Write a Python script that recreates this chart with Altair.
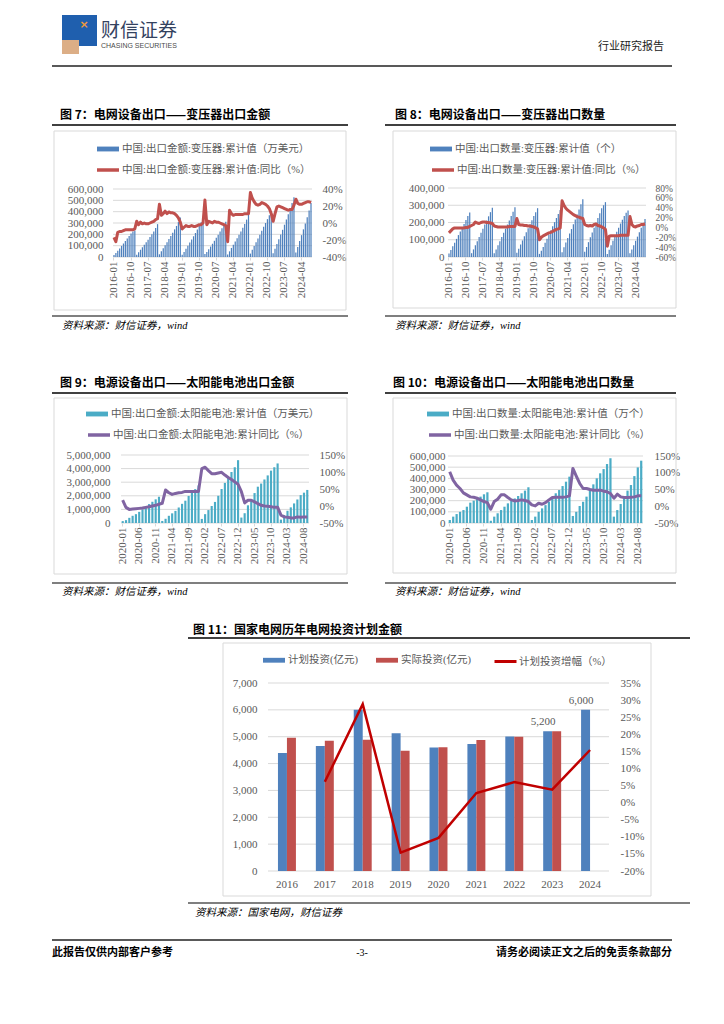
import altair as alt
import pandas as pd

# ------------------------------------------------------------------ data
MONTHS_16 = [f"{y}-{m:02d}" for y in range(2016, 2025) for m in range(1, 13)][:105]
MONTHS_20 = [f"{y}-{m:02d}" for y in range(2020, 2025) for m in range(1, 13)][:57]
XLAB_16 = ["2016-01", "2016-10", "2017-07", "2018-04", "2019-01", "2019-10",
           "2020-07", "2021-04", "2022-01", "2022-10", "2023-07", "2024-04"]
XLAB_20 = ["2020-01", "2020-06", "2020-11", "2021-04", "2021-09", "2022-02",
           "2022-07", "2022-12", "2023-05", "2023-10", "2024-03", "2024-08"]

# Fig 7  transformer export value (10k USD, cumulative) and YoY (%)
TR_VAL = [
    18000, 36000, 56000, 76000, 98000, 119000, 141000, 164000, 186000, 207000, 224000, 233000,
    20000, 42000, 64000, 86000, 108000, 130000, 153000, 176000, 200000, 226000, 256000, 290000,
    24000, 50000, 78000, 104000, 130000, 158000, 186000, 214000, 244000, 274000, 308000, 348000,
    20000, 45000, 73000, 100000, 127000, 155000, 183000, 212000, 243000, 274000, 306000, 343000,
    26000, 44000, 68000, 92000, 117000, 143000, 170000, 197000, 225000, 254000, 283000, 312000,
    22000, 50000, 80000, 108000, 136000, 166000, 196000, 226000, 258000, 292000, 330000, 374000,
    30000, 64000, 98000, 130000, 163000, 197000, 232000, 266000, 300000, 334000, 368000, 405000,
    32000, 72000, 115000, 156000, 198000, 240000, 285000, 330000, 378000, 426000, 476000, 528000,
    40000, 88000, 142000, 193000, 244000, 295000, 350000, 410000, 476000]
TR_VAL_YOY = [
    -17, -22, -11, -10, -10, -9, -8, -8, -8, -8, -8, -7,
    2, -2, 1, -1, 0, -1, -1, 0, 1, 2, 4, 5,
    22, 9, 11, 14, 11, 13, 12, 12, 11, 9, 6, 1,
    -7, -5, -3, -4, -4, -3, -4, -4, -3, -2, -2, 0,
    27, -2, 2, 1, 0, 2, 1, 1, 0, -1, -2, -3,
    -22, 15, 11, 9, 10, 10, 10, 10, 10, 11, 11, 11,
    36, 29, 25, 22, 21, 22, 24, 23, 22, 20, 17, 11,
    2, 11, 19, 20, 19, 18, 17, 16, 15, 16, 16, 21,
    28, 23, 22, 22, 23, 24, 25, 25, 24]

# Fig 8  transformer export quantity (units, cumulative) and YoY (%)
TR_QTY = [
    20000, 40000, 62000, 83000, 105000, 127000, 148000, 170000, 192000, 215000, 237000, 258000,
    22000, 44000, 68000, 92000, 116000, 140000, 164000, 188000, 212000, 236000, 260000, 286000,
    22000, 44000, 68000, 92000, 116000, 140000, 164000, 188000, 212000, 238000, 262000, 288000,
    25000, 48000, 72000, 96000, 120000, 143000, 167000, 190000, 213000, 237000, 260000, 283000,
    18000, 36000, 58000, 82000, 106000, 130000, 154000, 178000, 202000, 226000, 250000, 272000,
    28000, 56000, 84000, 110000, 136000, 162000, 190000, 218000, 246000, 276000, 306000, 335000,
    30000, 58000, 86000, 114000, 142000, 170000, 198000, 226000, 254000, 282000, 300000, 318000,
    18000, 42000, 68000, 94000, 120000, 146000, 170000, 194000, 216000, 238000, 256000, 270000,
    22000, 44000, 68000, 94000, 118000, 144000, 170000, 196000, 220000]
TR_QTY_YOY = [
    -11, -7, -3, -1, -1, -1, -1, -1, -1, 0, 0, 2,
    4, 6, 11, 9, 8, 10, 11, 11, 10, 10, 9, 8,
    3, 2, 1, 1, 1, 1, 1, 1, 2, 2, 2, 2,
    18, 6, 5, 5, 4, 4, 3, 3, 2, 1, -1, -3,
    -25, -20, -17, -15, -13, -11, -10, -8, -6, -4, -3, -1,
    54, 45, 39, 35, 32, 29, 26, 24, 22, 21, 19, 18,
    6, 4, 3, 4, 3, 6, 7, 4, 3, 1, -1, -4,
    -38, -18, -17, -17, -17, -17, -17, -16, -16, -16, -16, -16,
    22, 6, 2, 1, 3, 4, 6, 6, 7]

# Fig 9  solar cell export value (10k USD, cumulative) and YoY (%)
PV_VAL = [
    140000, 210000, 380000, 530000, 650000, 820000, 1000000, 1150000, 1390000, 1560000, 1740000, 1930000,
    150000, 310000, 530000, 710000, 890000, 1140000, 1410000, 1640000, 1990000, 2230000, 2490000, 2760000,
    300000, 650000, 950000, 1250000, 1550000, 2000000, 2500000, 2950000, 3350000, 3750000, 4100000, 4620000,
    400000, 720000, 1300000, 1700000, 2200000, 2670000, 2900000, 3200000, 3500000, 3850000, 4100000, 4380000,
    250000, 580000, 900000, 1150000, 1440000, 1730000, 2050000, 2230000, 2430000]
PV_VAL_YOY = [
    17, -4, -10, -9, -8, -7, -6, -4, -2, 0, 2, 5,
    8, 47, 39, 34, 37, 39, 40, 43, 43, 43, 43, 43,
    110, 114, 104, 95, 95, 97, 99, 91, 84, 78, 71, 64,
    42, 9, 17, 17, 12, 7, 2, 0, -1, -2, -4, -4,
    -27, -32, -33, -35, -35, -32, -33, -32, -32]

# Fig 10  solar cell export quantity (10k units, cumulative) and YoY (%)
PV_QTY = [
    27000, 57000, 80000, 100000, 116000, 146000, 182000, 200000, 220000, 236000, 257000, 275000,
    20000, 57000, 87000, 116000, 146000, 176000, 197000, 220000, 242000, 266000, 290000, 320000,
    27000, 57000, 100000, 131000, 160000, 190000, 226000, 266000, 295000, 331000, 370000, 415000,
    63000, 100000, 152000, 190000, 236000, 295000, 346000, 400000, 445000, 483000, 528000, 580000,
    57000, 116000, 170000, 220000, 290000, 340000, 420000, 498000, 558000]
PV_QTY_YOY = [
    103, 78, 63, 53, 40, 34, 28, 27, 24, 19, 14, 11,
    -9, 14, 21, 34, 34, 26, 19, 16, 17, 19, 17, 14,
    4, 1, 9, 6, 11, 19, 26, 27, 27, 27, 28, 31,
    113, 90, 68, 53, 53, 50, 48, 48, 48, 45, 43, 38,
    24, 36, 28, 26, 26, 27, 28, 31, 31]

# Fig 11  State Grid investment (100m CNY)
YEARS = ["2016", "2017", "2018", "2019", "2020", "2021", "2022", "2023", "2024"]
PLAN = [4390, 4657, 6000, 5126, 4600, 4730, 5012, 5200, 6000]
ACTUAL = [4960, 4854, 4889, 4473, 4605, 4882, 5000, 5200]
PLAN_GROWTH = [6.1, 28.8, -14.6, -10.3, 2.8, 6.0, 3.8, 15.4]   # 2017..2024
PLAN_LABELS = {"2023": "5,200", "2024": "6,000"}

# ------------------------------------------------------------------ layout helpers
MARGIN = 8
W, H = 708, 1008
SERIF = "Liberation Serif, Noto Sans CJK SC"
CJK = "Noto Sans CJK SC"
GRAY = "#595959"
GRID = "#d9d9d9"
ONE = pd.DataFrame({"k": [0]})


def px(v):
    return v - MARGIN


def txt(s, x, y, size, color="#000000", font=CJK, weight="normal", style="normal",
        align="left", baseline="middle"):
    return alt.Chart(ONE).mark_text(
        text=s, font=font, fontSize=size, fontWeight=weight, fontStyle=style,
        color=color, align=align, baseline=baseline
    ).encode(x=alt.value(px(x)), y=alt.value(px(y)))


def hline(x1, x2, y, color="#000000", width=1.0):
    return alt.Chart(ONE).mark_rule(color=color, strokeWidth=width).encode(
        x=alt.value(px(x1)), x2=alt.value(px(x2)), y=alt.value(px(y)))


def frame(x1, y1, x2, y2, color=GRID):
    return alt.Chart(ONE).mark_rect(fillOpacity=0, stroke=color, strokeWidth=1).encode(
        x=alt.value(px(x1)), x2=alt.value(px(x2)), y=alt.value(px(y1)), y2=alt.value(px(y2)))


def filled(x1, y1, x2, y2, color):
    return alt.Chart(ONE).mark_rect(color=color).encode(
        x=alt.value(px(x1)), x2=alt.value(px(x2)), y=alt.value(px(y1)), y2=alt.value(px(y2)))


BAR_SYMBOL = "M-1,-0.22H1V0.22H-1Z"


def bar_legend(x, yc, direction="vertical", colpad=10):
    return alt.Legend(orient="none", legendX=px(x), legendY=px(yc) - 11, title=None,
                      symbolType=BAR_SYMBOL, symbolSize=484, symbolStrokeWidth=0,
                      labelFont=SERIF, labelFontSize=10.5, labelColor=GRAY, labelLimit=500,
                      labelOffset=3, padding=0, direction=direction,
                      columnPadding=colpad, symbolOpacity=1)


def line_legend(x, yc, width=3.5):
    return alt.Legend(orient="none", legendX=px(x), legendY=px(yc) - 11, title=None,
                      symbolType="stroke", symbolSize=484, symbolStrokeWidth=width,
                      labelFont=SERIF, labelFontSize=10.5, labelColor=GRAY, labelLimit=500,
                      labelOffset=1, padding=0)


def left_axis(x0, label_right, values):
    return alt.Axis(orient="left", offset=-px(x0), values=values, format=",d",
                    labelPadding=x0 - label_right, ticks=False, tickSize=0, domain=False,
                    grid=False, labelFont=SERIF, labelFontSize=11, labelColor=GRAY,
                    labelOverlap=False, labelFlush=False, title=None)


def right_axis(x1, label_left, values, size=11):
    return alt.Axis(orient="right", offset=px(x1) - W, values=values,
                    labelExpr="datum.value + '%'", labelPadding=label_left - x1,
                    ticks=False, tickSize=0, domain=False, grid=False,
                    labelOverlap=False, labelFlush=False,
                    labelFont=SERIF, labelFontSize=size, labelColor=GRAY, title=None)


def dual_chart(c):
    xs = alt.Scale(domain=c["months"], range=[px(c["x0"]), px(c["x1"])],
                   paddingInner=0.35, paddingOuter=0.2)
    yl = alt.Scale(domain=c["ldom"], range=[px(c["yb"]), px(c["yt"])], nice=False, zero=False)
    yr = alt.Scale(domain=c["rdom"], range=[px(c["yb"]), px(c["yt"])], nice=False, zero=False)
    grid = alt.Chart(pd.DataFrame({"v": c["lticks"]})).mark_rule(
        color=GRID, strokeWidth=1).encode(
        y=alt.Y("v:Q", scale=yl, axis=None),
        x=alt.value(px(c["x0"])), x2=alt.value(px(c["x1"])))
    xaxis = alt.Axis(orient="bottom", offset=px(c["yb"]) - H, values=c["xlabels"],
                     labelAngle=-90, tickSize=3, tickColor=GRID, domain=False,
                     labelPadding=1, labelFont=SERIF, labelFontSize=11,
                     labelOverlap=False, labelColor=GRAY, grid=False, title=None)
    bar_df = pd.DataFrame({"m": c["months"], "v": c["bars"], "s": c["bar_name"]})
    bars = alt.Chart(bar_df).mark_bar(color=c["bar_color"]).encode(
        x=alt.X("m:N", scale=xs, axis=xaxis),
        y=alt.Y("v:Q", scale=yl, axis=left_axis(c["x0"], c["lab_l"], c["lticks"])),
        color=alt.Color("s:N", scale=alt.Scale(domain=[c["bar_name"]], range=[c["bar_color"]]),
                        legend=bar_legend(c["leg_x"], c["leg_y1"])))
    line_df = pd.DataFrame({"m": c["months"], "v": c["line"], "s": c["line_name"]})
    line = alt.Chart(line_df).mark_line(strokeWidth=3, strokeJoin="round").encode(
        x=alt.X("m:N", scale=xs, axis=None),
        y=alt.Y("v:Q", scale=yr,
                axis=right_axis(c["x1"], c["lab_r"], c["rticks"], c.get("rsize", 11))),
        stroke=alt.Stroke("s:N", scale=alt.Scale(domain=[c["line_name"]], range=[c["line_color"]]),
                          legend=line_legend(c["leg_x2"], c["leg_y2"])))
    return [grid, bars, line]


BLUE, RED, TEAL, PURPLE, DRED = "#4F81BD", "#C0504D", "#4BACC6", "#8064A2", "#C00000"

fig7 = dict(months=MONTHS_16, xlabels=XLAB_16, bars=TR_VAL, line=TR_VAL_YOY,
            x0=113, x1=312, yb=257, yt=189, ldom=[0, 600000],
            lticks=[0, 100000, 200000, 300000, 400000, 500000, 600000],
            rdom=[-40, 40], rticks=[-40, -20, 0, 20, 40], lab_l=103, lab_r=322,
            bar_name="中国:出口金额:变压器:累计值（万美元）",
            line_name="中国:出口金额:变压器:累计值:同比（%）",
            bar_color=BLUE, line_color=RED, leg_x=97, leg_y1=149, leg_x2=95, leg_y2=168)
fig8 = dict(months=MONTHS_16, xlabels=XLAB_16, bars=TR_QTY, line=TR_QTY_YOY,
            x0=448, x1=646, yb=257, yt=188, ldom=[0, 400000],
            lticks=[0, 100000, 200000, 300000, 400000],
            rdom=[-60, 80], rticks=[-60, -40, -20, 0, 20, 40, 60, 80], lab_l=444, lab_r=655,
            rsize=9.5,
            bar_name="中国:出口数量:变压器:累计值（个）",
            line_name="中国:出口数量:变压器:累计值:同比（%）",
            bar_color=BLUE, line_color=RED, leg_x=430, leg_y1=149, leg_x2=430, leg_y2=168)
fig9 = dict(months=MONTHS_20, xlabels=XLAB_20, bars=PV_VAL, line=PV_VAL_YOY,
            x0=121, x1=309, yb=523, yt=455, ldom=[0, 5000000],
            lticks=[0, 1000000, 2000000, 3000000, 4000000, 5000000],
            rdom=[-50, 150], rticks=[-50, 0, 50, 100, 150], lab_l=110, lab_r=319,
            bar_name="中国:出口金额:太阳能电池:累计值（万美元）",
            line_name="中国:出口金额:太阳能电池:累计同比（%）",
            bar_color=TEAL, line_color=PURPLE, leg_x=86, leg_y1=414, leg_x2=86, leg_y2=433)
fig10 = dict(months=MONTHS_20, xlabels=XLAB_20, bars=PV_QTY, line=PV_QTY_YOY,
             x0=448, x1=643, yb=523, yt=456, ldom=[0, 600000],
             lticks=[0, 100000, 200000, 300000, 400000, 500000, 600000],
             rdom=[-50, 150], rticks=[-50, 0, 50, 100, 150], lab_l=445, lab_r=654,
             bar_name="中国:出口数量:太阳能电池:累计值（万个）",
             line_name="中国:出口数量:太阳能电池:累计同比（%）",
             bar_color=TEAL, line_color=PURPLE, leg_x=427, leg_y1=414, leg_x2=427, leg_y2=433)


def grid_chart():
    x0, x1, yb, yt = 268, 609, 871, 683
    plan_name, act_name, g_name = "计划投资(亿元)", "实际投资(亿元)", "计划投资增幅（%）"
    xs = alt.Scale(domain=YEARS, range=[px(x0), px(x1)], paddingInner=0.526, paddingOuter=0.263)
    xo = alt.Scale(domain=[plan_name, act_name], paddingInner=0, paddingOuter=0)
    lt = [0, 1000, 2000, 3000, 4000, 5000, 6000, 7000]
    rt = [-20, -15, -10, -5, 0, 5, 10, 15, 20, 25, 30, 35]
    yl = alt.Scale(domain=[0, 7000], range=[px(yb), px(yt)], nice=False, zero=False)
    yr = alt.Scale(domain=[-20, 35], range=[px(yb), px(yt)], nice=False, zero=False)
    grid = alt.Chart(pd.DataFrame({"v": lt})).mark_rule(color=GRID, strokeWidth=1).encode(
        y=alt.Y("v:Q", scale=yl, axis=None), x=alt.value(px(x0)), x2=alt.value(px(x1)))
    rows = [{"y": y, "s": plan_name, "v": v} for y, v in zip(YEARS, PLAN)] + \
           [{"y": y, "s": act_name, "v": v} for y, v in zip(YEARS, ACTUAL)]
    xaxis = alt.Axis(orient="bottom", offset=px(yb) - H, labelAngle=0, ticks=False,
                     tickSize=0, domain=False, labelPadding=7, labelFont=SERIF,
                     labelFontSize=11, labelColor=GRAY, grid=False, title=None)
    bars = alt.Chart(pd.DataFrame(rows)).mark_bar().encode(
        x=alt.X("y:N", scale=xs, axis=xaxis),
        xOffset=alt.XOffset("s:N", scale=xo),
        y=alt.Y("v:Q", scale=yl, axis=left_axis(x0, 257, lt)),
        color=alt.Color("s:N", scale=alt.Scale(domain=[plan_name, act_name], range=[BLUE, RED]),
                        legend=bar_legend(263, 660, direction="horizontal", colpad=18)))
    lab_df = pd.DataFrame({"y": list(PLAN_LABELS.keys()), "s": plan_name,
                           "v": [PLAN[YEARS.index(k)] for k in PLAN_LABELS],
                           "t": list(PLAN_LABELS.values())})
    labels = alt.Chart(lab_df).mark_text(baseline="bottom", dy=-4, font=SERIF,
                                         fontSize=11, color=GRAY).encode(
        x=alt.X("y:N", scale=xs, axis=None), xOffset=alt.XOffset("s:N", scale=xo),
        y=alt.Y("v:Q", scale=yl, axis=None), text="t:N")
    g_df = pd.DataFrame({"y": YEARS[1:], "v": PLAN_GROWTH, "s": g_name})
    line = alt.Chart(g_df).mark_line(strokeWidth=2.5).encode(
        x=alt.X("y:N", scale=xs, axis=None),
        y=alt.Y("v:Q", scale=yr, axis=right_axis(x1, 620, rt)),
        stroke=alt.Stroke("s:N", scale=alt.Scale(domain=[g_name], range=[DRED]),
                          legend=line_legend(493, 660, width=3)))
    return [grid, bars, line, labels]


# ------------------------------------------------------------------ page decorations
deco = [
    # header
    filled(62, 15, 97, 46, "#1f5fae"),
    filled(62, 40, 79, 54, "#dcae86"),
    txt("×", 84, 25, 11, color="#f29a3a", font="DejaVu Sans", weight="bold", align="center"),
    txt("财信证券", 101, 31, 19, color="#34425f"),
    txt("CHASING SECURITIES", 101, 46, 7, color="#4a4a4a", font="Liberation Sans"),
    txt("行业研究报告", 598, 47, 11, color="#222222"),
    hline(52, 672, 66, color="#222222", width=1.5),
    # figure 7 / 8
    txt("图 7：电网设备出口——变压器出口金额", 60, 115, 12, weight="bold"),
    hline(52, 348, 125, width=1.5),
    frame(54, 131, 346, 310),
    hline(52, 348, 316, width=1.2),
    txt("资料来源：财信证券，wind", 62, 326, 10.5, style="italic", font=SERIF),
    txt("图 8：电网设备出口——变压器出口数量", 395, 115, 12, weight="bold"),
    hline(385, 676, 125, width=1.5),
    frame(393, 131, 676, 308),
    hline(385, 676, 316, width=1.2),
    txt("资料来源：财信证券，wind", 395, 326, 10.5, style="italic", font=SERIF),
    # figure 9 / 10
    txt("图 9：电源设备出口——太阳能电池出口金额", 60, 383, 12, weight="bold"),
    hline(52, 348, 393, width=1.5),
    frame(54, 398, 347, 574),
    hline(52, 348, 583, width=1.2),
    txt("资料来源：财信证券，wind", 62, 592, 10.5, style="italic", font=SERIF),
    txt("图 10：电源设备出口——太阳能电池出口数量", 393, 383, 12, weight="bold"),
    hline(385, 676, 393, width=1.5),
    frame(393, 398, 676, 573),
    hline(385, 676, 583, width=1.2),
    txt("资料来源：财信证券，wind", 395, 592, 10.5, style="italic", font=SERIF),
    # figure 11
    txt("图 11：国家电网历年电网投资计划金额", 193, 630, 12, weight="bold"),
    hline(188, 690, 638, width=1.5),
    frame(223, 643, 651, 896),
    hline(188, 690, 903, width=1.2),
    txt("资料来源：国家电网，财信证券", 195, 913, 10.5, style="italic", font=SERIF),
    # footer
    hline(52, 672, 940, color="#222222", width=1.5),
    txt("此报告仅供内部客户参考", 52, 953, 11, weight="bold"),
    txt("-3-", 362, 953, 10, font=SERIF, align="center"),
    txt("请务必阅读正文之后的免责条款部分", 672, 953, 11, weight="bold", align="right"),
]

layers = deco + dual_chart(fig7) + dual_chart(fig8) + dual_chart(fig9) + dual_chart(fig10) + grid_chart()

chart = alt.layer(*layers).properties(
    width=W, height=H, padding=0, background="white",
    autosize=alt.AutoSizeParams(type="none")
).resolve_scale(
    x="independent", y="independent", color="independent",
    stroke="independent", xOffset="independent"
).resolve_axis(x="independent", y="independent").resolve_legend(
    color="independent", stroke="independent"
).configure_view(stroke=None)

chart.save("out.html", embed_options={"renderer": "svg", "actions": False})
